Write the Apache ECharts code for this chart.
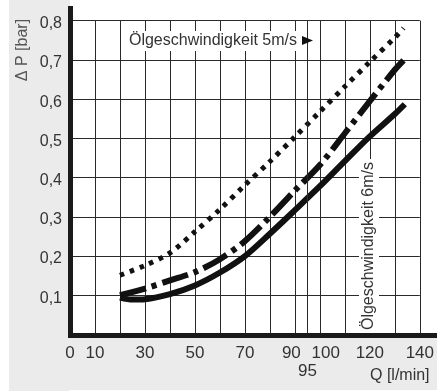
<!DOCTYPE html>
<html>
<head>
<meta charset="utf-8">
<style>html,body{margin:0;padding:0;background:#fff;}#c{width:437px;height:391px;}</style>
<script src="https://cdn.jsdelivr.net/npm/echarts@6/dist/echarts.min.js"></script>
</head>
<body>
<div id="c"></div>
<script>
// Data
const qDotted = [20, 30, 40, 50, 60, 70, 80, 90, 100, 110, 120, 130, 133.5];
const pDotted = [0.151, 0.176, 0.208, 0.262, 0.319, 0.381, 0.441, 0.504, 0.568, 0.632, 0.695, 0.757, 0.781];
const qDashDot = [20, 30, 40, 50, 60, 70, 80, 90, 100, 110, 120, 130, 133.5];
const pDashDot = [0.100, 0.117, 0.138, 0.159, 0.192, 0.238, 0.300, 0.367, 0.432, 0.513, 0.595, 0.675, 0.699];
const qSolid = [20, 25, 30, 40, 50, 60, 70, 80, 90, 100, 110, 120, 130, 134];
const pSolid = [0.094, 0.089, 0.090, 0.103, 0.125, 0.158, 0.200, 0.257, 0.317, 0.378, 0.442, 0.505, 0.562, 0.587];
const xTickLabels = [0, 10, 30, 50, 70, 90, 95, 100, 120, 140];
const xExtraGrid = [95];
const yTicks = [0.1, 0.2, 0.3, 0.4, 0.5, 0.6, 0.7, 0.8];
const yName = 'Δ P [bar]';
const xName = 'Q [l/min]';
const note5 = 'Ölgeschwindigkeit 5m/s';
const note6 = 'Ölgeschwindigkeit 6m/s';

const pairs = (xs, ys) => xs.map((x, i) => [x, ys[i]]);
const FONT = 'Liberation Sans';
const TXT = '#333';
const INK = '#111';

const chart = echarts.init(document.getElementById('c'), null, {renderer: 'canvas'});
chart.setOption({
  animation: false,
  backgroundColor: '#fff',
  grid: {left: 70, right: 4.5, top: 20.7, bottom: 56.5, containLabel: false},
  xAxis: {
    type: 'value', min: 0, max: 140, interval: 10,
    axisLine: {show: false}, axisTick: {show: false},
    splitLine: {show: true, lineStyle: {color: '#2a2a2a', width: 1}},
    axisLabel: {
      customValues: xTickLabels,
      margin: 10,
      color: TXT, fontFamily: FONT, fontSize: 17, lineHeight: 18,
      formatter: function (v) {
        if (v === 95) return '{n|}\n{n|95}';
        if (v === 90) return '{l|90}';
        if (v === 100) return '{r|100}';
        return String(v);
      },
      rich: {
        n: {color: TXT, fontFamily: FONT, fontSize: 17, lineHeight: 18},
        l: {color: TXT, fontFamily: FONT, fontSize: 17, lineHeight: 18, width: 26, align: 'left'},
        r: {color: TXT, fontFamily: FONT, fontSize: 17, lineHeight: 18, width: 40, align: 'right'}
      }
    }
  },
  yAxis: {
    type: 'value', min: 0, max: 0.8, interval: 0.1,
    axisLine: {show: false}, axisTick: {show: false},
    splitLine: {show: true, lineStyle: {color: '#2a2a2a', width: 1}},
    axisLabel: {
      customValues: yTicks,
      margin: 8,
      color: TXT, fontFamily: FONT, fontSize: 16,
      formatter: v => '{a|' + v.toFixed(1).replace('.', ',') + '}',
      rich: {a: {color: TXT, fontFamily: FONT, fontSize: 16, padding: [6, 0, 0, 0]}}
    }
  },
  series: [
    {
      type: 'line', data: pairs(qDotted, pDotted), smooth: 0.3, showSymbol: false, silent: true,
      lineStyle: {color: INK, width: 5, type: [4.5, 6], cap: 'butt'}, z: 3
    },
    {
      type: 'line', data: pairs(qDashDot, pDashDot), smooth: 0.3, showSymbol: false, silent: true,
      lineStyle: {color: INK, width: 6, type: [27, 6, 5, 6], cap: 'butt'}, z: 3
    },
    {
      type: 'line', data: pairs(qSolid, pSolid), smooth: 0.3, showSymbol: false, silent: true,
      lineStyle: {color: INK, width: 6}, z: 3,
      markLine: {
        silent: true, symbol: 'none', label: {show: false},
        lineStyle: {color: '#2a2a2a', width: 1, type: 'solid'},
        data: xExtraGrid.map(v => ({xAxis: v}))
      }
    }
  ],
  graphic: [
    {type: 'rect', shape: {x: 9, y: 0, width: 61, height: 391}, style: {fill: '#ebebeb'}, z: -10, silent: true},
    {type: 'rect', shape: {x: 9, y: 335, width: 428, height: 55}, style: {fill: '#ebebeb'}, z: -10, silent: true},
    {type: 'line', shape: {x1: 70.5, y1: 6, x2: 70.5, y2: 338}, style: {stroke: '#1a1a1a', lineWidth: 5}, z: 50, silent: true},
    {type: 'line', shape: {x1: 68, y1: 335.5, x2: 437, y2: 335.5}, style: {stroke: '#1a1a1a', lineWidth: 5}, z: 50, silent: true},
    {type: 'text', x: 23, y: 50, rotation: Math.PI / 2, z: 50, silent: true,
      style: {text: yName, fill: '#555', font: '16px "Liberation Sans"', align: 'center', verticalAlign: 'middle'}},
    {type: 'text', x: 370, y: 376, z: 50, silent: true,
      style: {text: xName, fill: TXT, font: '16px "Liberation Sans"', align: 'left', verticalAlign: 'middle'}},
    {type: 'text', x: 213, y: 41, z: 40, silent: true,
      style: {text: note5, fill: TXT, font: '16px "Liberation Sans"', align: 'center', verticalAlign: 'middle',
        backgroundColor: '#fff', padding: [2, 3, 2, 3]}},
    {type: 'polygon', shape: {points: [[302, 36], [313, 40.5], [302, 45]]}, style: {fill: INK}, z: 40, silent: true},
    {type: 'text', x: 369, y: 246, rotation: Math.PI / 2, z: 40, silent: true,
      style: {text: note6, fill: TXT, font: '16px "Liberation Sans"', align: 'center', verticalAlign: 'middle',
        backgroundColor: '#fff', padding: [2, 3, 2, 3]}}
  ]
});
</script>
</body>
</html>
